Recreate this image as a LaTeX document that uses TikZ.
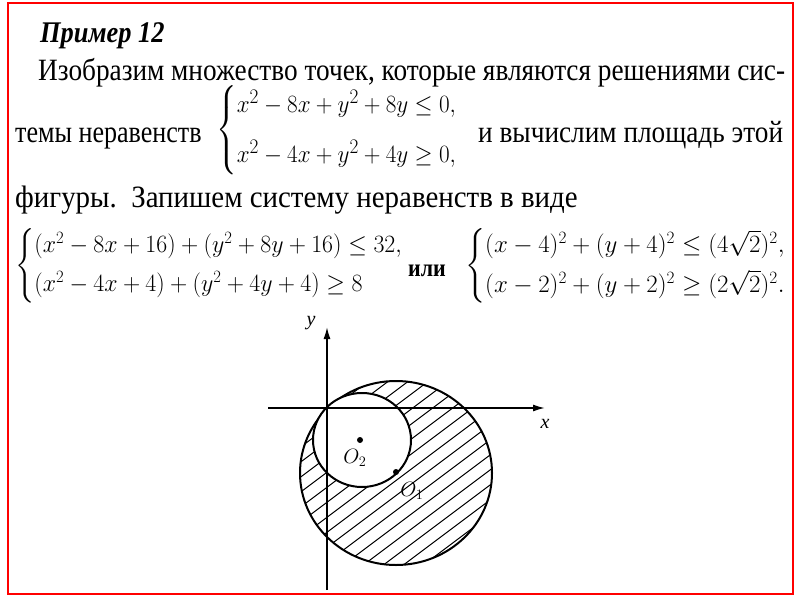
\documentclass[tikz,border=0pt]{standalone}
\usepackage{amsmath}
\usepackage{fontspec}
\setmainfont{Liberation Serif}
\usetikzlibrary{arrows.meta}
\begin{document}
\begin{tikzpicture}[x=1pt, y=-1pt, >=Latex,
    txt/.style={anchor=base west, inner sep=0pt, font=\fontsize{31}{34}\selectfont, xscale=0.88},
    mth/.style={anchor=west, inner sep=0pt, font=\fontsize{28}{30}\selectfont, xscale=0.93},
    mths/.style={anchor=west, inner sep=0pt, font=\fontsize{23}{26}\selectfont},
    circ/.style={line width=2pt},
    axis/.style={line width=1.6pt, -{Latex[length=12pt, width=7pt]}},
    dot/.style={circle, fill, inner sep=0pt, minimum size=6pt}]
    % frame of the slide
    \useasboundingbox (0,0) rectangle (800,600);
    \fill[white] (0,0) rectangle (800,600);
    \draw[red, line width=2pt] (8,3) rectangle (793,594);

    % text lines
    \node[txt, font=\fontsize{30}{32}\selectfont\bfseries\itshape] (title) at (40,42) {Пример 12};
    \node[txt] (line1) at (38,80) {Изобразим множество точек, которые являются решениями сис-};
    \node[txt, xscale=0.955] (line2) at (15,142) {темы неравенств};
    \node[mth] (sys1) at (216,130) {$\begin{cases} x^2-8x+y^2+8y\le 0,\\[14pt] x^2-4x+y^2+4y\ge 0,\end{cases}$};
    \node[txt] (line2b) at (478,142) {и вычислим площадь этой};
    \node[txt, xscale=1.06] (line3) at (15,207) {фигуры.\ \ Запишем систему неравенств в виде};
    \node[mths, xscale=0.96] (sys2) at (15,266) {$\begin{cases} (x^2-8x+16)+(y^2+8y+16)\le 32,\\[8pt] (x^2-4x+4)+(y^2+4y+4)\ge 8\end{cases}$};
    \node[txt, font=\fontsize{25}{28}\selectfont\bfseries] (ili) at (408,276) {или};
    \node[mths, xscale=1.0] (sys3) at (465,266) {$\begin{cases} (x-4)^2+(y+4)^2\le (4\sqrt{2})^2,\\[8pt] (x-2)^2+(y+2)^2\ge (2\sqrt{2})^2.\end{cases}$};

    % hatched ring
    \begin{scope}[even odd rule]
        \clip (396,473) ellipse [x radius=96, y radius=92] (362,440) ellipse [x radius=49, y radius=47];
        \foreach \k in {-300,-285,...,300}
            \draw[line width=1pt] (250,{560+\k}) -- (550,{335+\k});
    \end{scope}
    \draw[circ] (396,473) ellipse [x radius=96, y radius=92];
    \draw[circ, fill=white] (362,440) ellipse [x radius=49, y radius=47];

    % axes
    \coordinate (xs) at (268,408);
    \coordinate (xe) at (545,408);
    \coordinate (ys) at (327,590);
    \coordinate (ye) at (327,327);
    \draw[axis] (xs) -- (xe);
    \draw[axis] (ys) -- (ye);
    \node[font=\fontsize{20}{22}\selectfont\itshape] (xl) at (545,424) {x};
    \node[font=\fontsize{20}{22}\selectfont\itshape] (yl) at (311,323) {y};

    % centres
    \node[dot] (o2) at (360,440) {};
    \node[dot] (o1) at (396,472) {};
    \node[font=\fontsize{20}{22}\selectfont] (o2l) at (355,458) {$O_2$};
    \node[font=\fontsize{20}{22}\selectfont] (o1l) at (412,491) {$O_1$};
\end{tikzpicture}
\end{document}
